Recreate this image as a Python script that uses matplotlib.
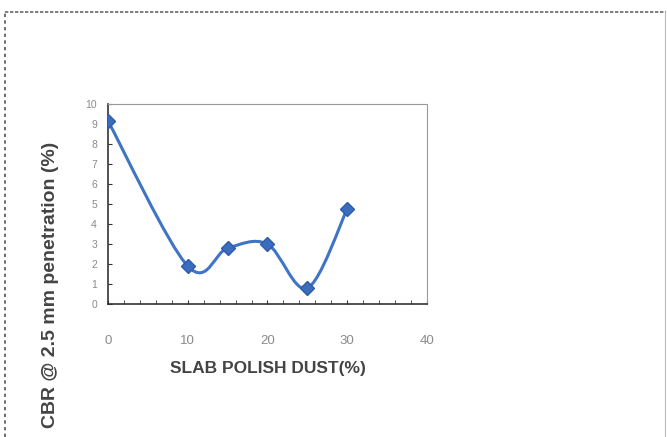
import numpy as np
import matplotlib
matplotlib.use("Agg")
import matplotlib.pyplot as plt
from matplotlib.path import Path
from matplotlib.patches import PathPatch

plt.rcParams['font.family'] = ['Liberation Sans', 'DejaVu Sans']

# datos
dust = [0, 10, 15, 20, 25, 30]
cbr = [9.15, 1.9, 2.8, 3.0, 0.8, 4.75]
xticks = [0, 10, 20, 30, 40]
yticks = list(range(0, 11))

fig = plt.figure(figsize=(6.67, 4.37), dpi=100)
ax = fig.add_axes([0.162, 0.304, 0.478, 0.458])

# curva suavizada tipo Excel (Catmull-Rom -> Bezier)
pts = np.column_stack([dust, cbr])
verts = [pts[0]]
codes = [Path.MOVETO]
for i in range(len(pts) - 1):
    p0 = pts[i - 1] if i > 0 else pts[i]
    p1, p2 = pts[i], pts[i + 1]
    p3 = pts[i + 2] if i + 2 < len(pts) else pts[i + 1]
    c1 = p1 + (p2 - p0) / 6
    c2 = p2 - (p3 - p1) / 6
    verts += [c1, c2, p2]
    codes += [Path.CURVE4] * 3
ax.add_patch(PathPatch(Path(verts, codes), fill=False, edgecolor="#3f74c6", lw=2.2, zorder=2))
ax.plot(dust, cbr, linestyle="none", marker="D", markersize=7, color="#3b6dbf",
        markeredgecolor="#2e5ca8", zorder=3)

ax.set_xlim(0, 40)
ax.set_ylim(0, 10)
ax.set_xticks(xticks)
ax.set_yticks(yticks)
ax.set_xticks(np.arange(0, 41, 2), minor=True)
ax.tick_params(axis="both", which="both", direction="in", length=3, color="#333333")
ax.tick_params(axis="x", which="major", pad=22, labelsize=9.5, labelcolor="#8a8a8a")
ax.tick_params(axis="y", which="major", pad=8, labelsize=7.5, labelcolor="#8a8a8a")
for s in ["top", "right"]:
    ax.spines[s].set_linestyle((0, (1, 1)))
    ax.spines[s].set_color("#999999")
for s in ["left", "bottom"]:
    ax.spines[s].set_color("#333333")
    ax.spines[s].set_linewidth(1.2)

ax.set_xlabel("SLAB POLISH DUST(%)", fontsize=12.5, fontweight="bold", color="#444444", labelpad=10)
fig.text(0.076, 0.347, "CBR @ 2.5 mm penetration (%)", rotation=90, fontsize=14,
         fontweight="bold", color="#444444", ha="center", va="center")

# borde punteado de la figura
fig.add_artist(plt.Line2D([0.008, 0.008], [0, 0.972], transform=fig.transFigure,
                          color="#555555", lw=1.2, linestyle=(0, (2, 2))))
fig.add_artist(plt.Line2D([0.008, 0.998], [0.972, 0.972], transform=fig.transFigure,
                          color="#666666", lw=1.2, linestyle=(0, (2, 1))))
fig.add_artist(plt.Line2D([0.997, 0.997], [0, 0.972], transform=fig.transFigure,
                          color="#bbbbbb", lw=0.8))

fig.savefig("out.png", dpi=100)
